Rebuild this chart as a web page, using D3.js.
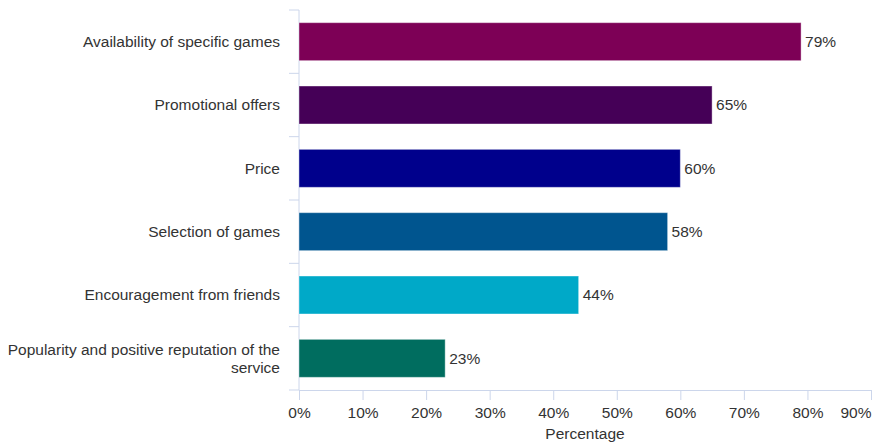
<!DOCTYPE html>
<html lang="en">
<head>
  <meta charset="UTF-8">
  <title>Reasons for choosing a service</title>
  <script src="https://d3js.org/d3.v7.min.js"></script>
  <style>
    body { margin: 0; background: #fff; font-family: "Liberation Sans", Arial, sans-serif; }
    text { fill: #333; }
  </style>
</head>
<body>
  <svg width="875" height="443"></svg>
  <script>
    const categories = [
      "Availability of specific games",
      "Promotional offers",
      "Price",
      "Selection of games",
      "Encouragement from friends",
      "Popularity and positive reputation of the service"
    ];
    const values = [79, 65, 60, 58, 44, 23];
    const colors = ["#7d0056", "#450057", "#00008c", "#00558f", "#00a9c8", "#006d5f"];
    const xTicks = [0, 10, 20, 30, 40, 50, 60, 70, 80, 90];

    const svg = d3.select("svg");
    const margin = { top: 10, right: 4, bottom: 53, left: 299 };
    const width = 875, height = 443;
    const fs = 15.5;

    const x = d3.scaleLinear().domain([0, 90]).range([margin.left, width - margin.right]);
    const y = d3.scaleBand().domain(categories).range([margin.top, height - margin.bottom]).paddingInner(0.4).paddingOuter(0.2);

    const axisColor = "#ccd6eb";

    // category band ticks
    const step = y.step();
    const bandEdges = d3.range(categories.length + 1).map(i => margin.top + i * step);
    svg.selectAll("line.ytick")
      .data(bandEdges)
      .join("line")
      .attr("x1", margin.left - 10).attr("x2", margin.left)
      .attr("y1", d => d).attr("y2", d => d)
      .attr("stroke", axisColor);

    // y axis line
    svg.append("line")
      .attr("x1", margin.left).attr("x2", margin.left)
      .attr("y1", margin.top).attr("y2", height - margin.bottom)
      .attr("stroke", axisColor);

    // x axis
    const xAxis = svg.append("g")
      .attr("transform", `translate(0,${height - margin.bottom})`)
      .call(d3.axisBottom(x).tickValues(xTicks).tickSize(10).tickFormat(d => d + "%"));
    xAxis.select(".domain").attr("stroke", axisColor);
    xAxis.selectAll(".tick line").attr("stroke", axisColor);
    xAxis.selectAll(".tick text")
      .attr("font-size", fs)
      .attr("font-family", "Liberation Sans, Arial, sans-serif")
      .attr("fill", "#333")
      .attr("dy", "0.95em");
    // keep last label inside the window
    xAxis.selectAll(".tick text").filter(d => d === 90).attr("text-anchor", "end").attr("dx", 0);

    svg.append("text")
      .attr("x", (margin.left + width - margin.right) / 2)
      .attr("y", 439)
      .attr("text-anchor", "middle")
      .attr("font-size", fs)
      .text("Percentage");

    // bars
    svg.selectAll("rect.bar")
      .data(values)
      .join("rect")
      .attr("x", x(0))
      .attr("y", (d, i) => y(categories[i]))
      .attr("width", d => x(d) - x(0))
      .attr("height", y.bandwidth())
      .attr("fill", (d, i) => colors[i])
      .attr("stroke", "#fff")
      .attr("stroke-opacity", 0.4);

    // value labels
    svg.selectAll("text.val")
      .data(values)
      .join("text")
      .attr("x", d => x(d) + 4)
      .attr("y", (d, i) => y(categories[i]) + y.bandwidth() / 2)
      .attr("dy", "0.35em")
      .attr("font-size", fs)
      .text(d => d + "%");

    // category labels, wrapped to fit
    const labelRight = margin.left - 19;
    const maxW = labelRight - 4;
    categories.forEach(c => {
      const t = svg.append("text")
        .attr("x", labelRight)
        .attr("text-anchor", "end")
        .attr("font-size", fs);
      const words = c.split(" ");
      let lines = [], line = [];
      words.forEach(w => {
        line.push(w);
        t.text(line.join(" "));
        if (t.node().getComputedTextLength() > maxW && line.length > 1) {
          line.pop();
          lines.push(line.join(" "));
          line = [w];
        }
      });
      lines.push(line.join(" "));
      t.text(null);
      const lh = 18;
      const cy = y(c) + y.bandwidth() / 2;
      lines.forEach((l, i) => {
        t.append("tspan")
          .attr("x", labelRight)
          .attr("y", cy + (i - (lines.length - 1) / 2) * lh)
          .attr("dy", "0.35em")
          .text(l);
      });
    });
  </script>
</body>
</html>
